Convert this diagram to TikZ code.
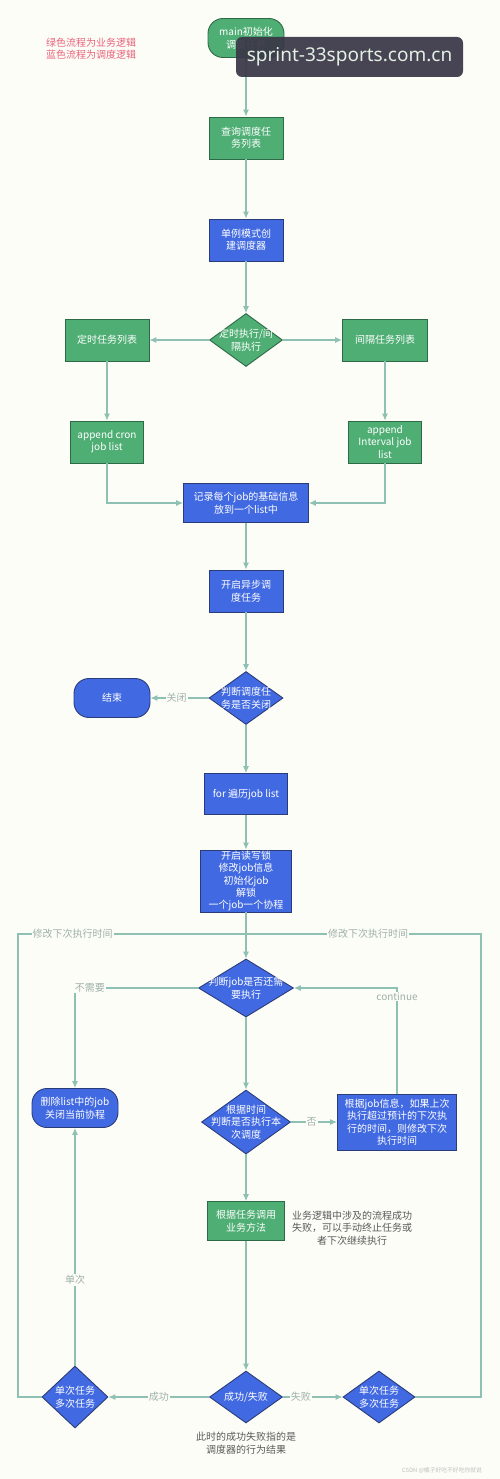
\documentclass[tikz,border=0pt]{standalone}
\usepackage{fontspec}
\setmainfont{Noto Sans CJK SC}
\newfontfamily\wmfont{Noto Sans}
\usetikzlibrary{shapes.geometric,arrows.meta}
\definecolor{bg}{HTML}{FDFDF7}
\definecolor{gfill}{HTML}{4FAE74}
\definecolor{gdraw}{HTML}{2F6A48}
\definecolor{bfill}{HTML}{4169E1}
\definecolor{bdraw}{HTML}{2B3C7A}
\definecolor{lcol}{HTML}{8FC0B4}
\definecolor{lab}{HTML}{9FB0AA}
\definecolor{note}{HTML}{5A5A5A}
\definecolor{legend}{HTML}{E8637C}
\definecolor{wmbox}{HTML}{3A3747}
\definecolor{wmtext}{HTML}{E3F0E3}
\tikzset{
  x=1pt,y=-1pt,
  every node/.style={font=\fontsize{10}{12.4}\selectfont},
  base/.style={inner sep=0pt,align=center,text=white,line width=0.9pt},
  gbox/.style={base,rectangle,fill=gfill,draw=gdraw},
  bbox/.style={base,rectangle,fill=bfill,draw=bdraw},
  gdia/.style={base,diamond,fill=gfill,draw=gdraw},
  bdia/.style={base,diamond,fill=bfill,draw=bdraw},
  dtext/.style={inner sep=0pt,align=center,text=white},
  arr/.style={draw=lcol,line width=1.1pt,-{Latex[length=7pt,width=6pt]}},
  ln/.style={draw=lcol,line width=1.1pt},
  elab/.style={fill=bg,inner sep=1pt,text=lab},
  sz/.style n args={2}{minimum width=#1pt,minimum height=#2pt},
}
\begin{document}
\begin{tikzpicture}
\fill[bg] (0,0) rectangle (500,1479);
\useasboundingbox (0,0) rectangle (500,1479);

% legend
\node[text=legend,align=center,inner sep=0pt] (legendtxt) at (91,48.5) {绿色流程为业务逻辑\\蓝色流程为调度逻辑};

% nodes
\node[gbox,sz={76}{39},rounded corners=15pt] (start) at (246,38) {main初始化\\调度任务};
\node[gbox,sz={74}{42}] (q) at (246,138) {查询调度任\\务列表};
\node[bbox,sz={74}{42}] (s) at (246,240) {单例模式创\\建调度器};
\node[gdia,sz={73}{53}] (d1) at (246,340) {};
\node[dtext] (d1t) at (d1) {定时执行/间\\隔执行};
\node[gbox,sz={84}{42}] (lbox) at (107,340) {定时任务列表};
\node[gbox,sz={85}{42}] (rbox) at (385,340) {间隔任务列表};
\node[gbox,sz={73}{42}] (ac) at (107,442) {append cron\\job list};
\node[gbox,sz={73}{42}] (ai) at (385,442) {append\\Interval job\\list};
\node[bbox,sz={125}{39}] (rec) at (246,503) {记录每个job的基础信息\\放到一个list中};
\node[bbox,sz={74}{42}] (async) at (246,591) {开启异步调\\度任务};
\node[bdia,sz={74}{53}] (d2) at (246,698) {};
\node[dtext] (d2t) at (d2) {判断调度任\\务是否关闭};
\node[bbox,sz={76}{39},rounded corners=15pt] (end) at (112,698) {结束};
\node[bbox,sz={83}{41}] (for) at (246,794) {for 遍历job list};
\node[bbox,sz={91}{62}] (big) at (246,881) {开启读写锁\\修改job信息\\初始化job\\解锁\\一个job一个协程};
\node[bdia,sz={95}{58}] (d3) at (246,988) {};
\node[dtext] (d3t) at (d3) {判断job是否还需\\要执行};
\node[bbox,sz={86}{39},rounded corners=15pt] (del) at (75,1108) {删除list中的job\\关闭当前协程};
\node[bdia,sz={89}{64}] (d4) at (246,1122) {};
\node[dtext] (d4t) at (d4) {根据时间\\判断是否执行本\\次调度};
\node[bbox,sz={119}{56}] (upd) at (397,1122) {根据job信息，如果上次\\执行超过预计的下次执\\行的时间，则修改下次\\执行时间};
\node[gbox,sz={77}{39}] (call) at (246,1221) {根据任务调用\\业务方法};
\node[text=note,align=center,inner sep=0pt] (note1) at (352,1228) {业务逻辑中涉及的流程成功\\失败，可以手动终止任务或\\者下次继续执行};
\node[bdia,sz={73}{52}] (d5) at (246,1397) {};
\node[dtext] (d5t) at (d5) {成功/失败};
\node[bdia,sz={66}{62}] (dl) at (75,1397) {};
\node[dtext] (dlt) at (dl) {单次任务\\多次任务};
\node[bdia,sz={72}{52}] (dr) at (379,1397) {};
\node[dtext] (drt) at (dr) {单次任务\\多次任务};
\node[text=note,align=center,inner sep=0pt] (note2) at (246,1443) {此时的成功失败指的是\\调度器的行为结果};
\node[text=black!25,inner sep=0pt,font=\fontsize{5.8}{7}\selectfont] (csdn) at (442,1471) {CSDN @橘子好吃不好吃你就说};

% junction coordinates for loops
\coordinate (jn) at (246,934);
\coordinate (lx) at (18,934);
\coordinate (rx) at (481,934);

% connectors
\draw[arr] (start) -- (q);
\draw[arr] (q) -- (s);
\draw[arr] (s) -- (d1);
\draw[arr] (d1.west) -- (lbox.east);
\draw[arr] (d1.east) -- (rbox.west);
\draw[arr] (lbox) -- (ac);
\draw[arr] (rbox) -- (ai);
\draw[arr] (ac.south) |- (rec.west);
\draw[arr] (ai.south) |- (rec.east);
\draw[arr] (rec) -- (async);
\draw[arr] (async) -- (d2);
\draw[arr] (d2.west) -- node[elab,pos=0.55] (l1) {关闭} (end.east);
\draw[arr] (d2) -- (for);
\draw[arr] (for) -- (big);
\draw[arr] (big) -- (d3);
\draw[arr] (d3.west) -| node[elab,pos=0.44] (l2) {不需要} (del.north);
\draw[arr] (d3) -- (d4);
\draw[arr] (d4.east) -- node[elab,pos=0.45] (l3) {否} (upd.west);
\draw[arr] (upd.north) |- node[elab,pos=0.46] (l4) {continue} (d3.east);
\draw[arr] (d4) -- (call);
\draw[arr] (call) -- (d5);
\draw[arr] (d5.west) -- node[elab,pos=0.5] (l5) {成功} (dl.east);
\draw[arr] (d5.east) -- node[elab,pos=0.3] (l6) {失败} (dr.west);
\draw[arr] (dl.north) -- node[elab,pos=0.36] (l7) {单次} (del.south);
\draw[ln] (dl.west) -| (lx) -- node[elab,pos=0.24] (l8) {修改下次执行时间} (jn);
\draw[ln] (dr.east) -| (rx) -- node[elab,pos=0.48] (l9) {修改下次执行时间} (jn);

% overlay watermark
\node[fill=wmbox,fill opacity=0.93,text opacity=1,rounded corners=6pt,
      minimum width=227pt,minimum height=40pt,inner sep=0pt,text=wmtext,
      font=\wmfont\fontsize{19}{22}\selectfont] (wm) at (349.5,57) {sprint-33sports.com.cn};
\end{tikzpicture}
\end{document}
